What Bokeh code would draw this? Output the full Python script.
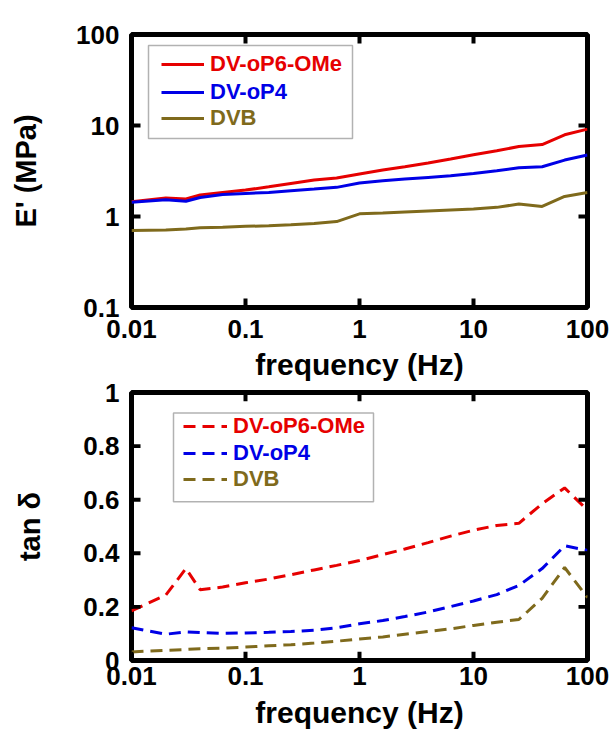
import math
from bokeh.plotting import figure
from bokeh.models import (FixedTicker, CustomJSTickFormatter, Legend, LegendItem,
                          Label, BoxAnnotation, Range1d)
from bokeh.layouts import column
from bokeh.embed import file_html
from bokeh.resources import INLINE

FONT = "Liberation Sans"
RED = "#e60000"
BLUE = "#0000e6"
OLIVE = "#7f6a1c"

# ---------------- data ----------------
freq = [0.01, 0.02, 0.03, 0.04, 0.063, 0.1, 0.16, 0.25, 0.4, 0.63, 1,
        1.6, 2.5, 4, 6.3, 10, 16, 25, 40, 63, 100]

E_dv_op6_ome = [1.45, 1.60, 1.56, 1.72, 1.84, 1.95, 2.12, 2.31, 2.52, 2.65, 2.93,
                3.24, 3.52, 3.87, 4.28, 4.76, 5.27, 5.88, 6.18, 7.90, 9.12]
E_dv_op4 = [1.43, 1.53, 1.47, 1.62, 1.74, 1.79, 1.84, 1.92, 2.00, 2.09, 2.33,
            2.47, 2.58, 2.69, 2.80, 2.97, 3.18, 3.43, 3.52, 4.17, 4.73]
E_dvb = [0.70, 0.71, 0.73, 0.75, 0.76, 0.78, 0.79, 0.81, 0.84, 0.88, 1.07,
         1.09, 1.12, 1.15, 1.18, 1.21, 1.26, 1.37, 1.29, 1.66, 1.84]

tan_dv_op6_ome = [0.185, 0.244, 0.343, 0.264, 0.274, 0.290, 0.304, 0.320, 0.338, 0.355, 0.373,
                  0.395, 0.416, 0.440, 0.464, 0.486, 0.504, 0.512, 0.585, 0.644, 0.561]
tan_dv_op4 = [0.122, 0.098, 0.107, 0.104, 0.101, 0.103, 0.105, 0.108, 0.113, 0.122, 0.137,
              0.149, 0.164, 0.181, 0.201, 0.222, 0.246, 0.280, 0.343, 0.428, 0.411]
tan_dvb = [0.032, 0.038, 0.041, 0.044, 0.046, 0.050, 0.055, 0.059, 0.065, 0.072, 0.080,
           0.088, 0.098, 0.108, 0.118, 0.131, 0.143, 0.153, 0.232, 0.347, 0.235]

series_names = ["DV-oP6-OMe", "DV-oP4", "DVB"]
series_colors = [RED, BLUE, OLIVE]

x_ticks = [0.01, 0.1, 1, 10, 100]
x_tick_labels = ["0.01", "0.1", "1", "10", "100"]
e_ticks = [0.1, 1, 10, 100]
e_tick_labels = ["0.1", "1", "10", "100"]
tan_ticks = [0, 0.2, 0.4, 0.6, 0.8, 1]
tan_tick_labels = ["0", "0.2", "0.4", "0.6", "0.8", "1"]

# ---------------- layout geometry (pixels) ----------------
FRAME_L, FRAME_W = 131, 456
A_TOP, A_H = 34, 273
P1_H = 383
B_TOP, B_H = 9, 275
P2_H = 731 - P1_H
TICK_L, TICK_W = 9, 4


class Geo:
    """page-pixel <-> data helpers for one panel (annotation placement only)"""
    def __init__(self, ylog, ylo, yhi, top, h, canvas_top):
        self.ylog, self.ylo, self.yhi = ylog, ylo, yhi
        self.top, self.h, self.ct = top, h, canvas_top
        self.xlo, self.xhi = math.log10(x_ticks[0]), math.log10(x_ticks[-1])

    def _yt(self, v):
        return math.log10(v) if self.ylog else v

    def x(self, px):
        return 10 ** (self.xlo + (self.xhi - self.xlo) * (px - FRAME_L) / FRAME_W)

    def px(self, xv):
        return FRAME_L + FRAME_W * (math.log10(xv) - self.xlo) / (self.xhi - self.xlo)

    def y(self, page_py):
        f = (self.top + self.h - (page_py - self.ct)) / self.h
        lo, hi = self._yt(self.ylo), self._yt(self.yhi)
        v = lo + (hi - lo) * f
        return 10 ** v if self.ylog else v

    def py(self, yv):
        lo, hi = self._yt(self.ylo), self._yt(self.yhi)
        return self.ct + self.top + self.h - self.h * (self._yt(yv) - lo) / (hi - lo)


def fmt(tv, tl):
    return CustomJSTickFormatter(
        args=dict(tvals=tv, tlabs=tl),
        code="const i = tvals.indexOf(tick); return i >= 0 ? tlabs[i] : String(tick);")


def style_axis(ax, tv, tl, standoff):
    ax.ticker = FixedTicker(ticks=tv)
    ax.formatter = fmt(tv, tl)
    ax.axis_line_color = None
    ax.major_tick_line_color = None
    ax.major_tick_in = 0
    ax.major_tick_out = 0
    ax.minor_tick_line_color = None
    ax.major_label_standoff = standoff
    ax.major_label_text_font = FONT
    ax.major_label_text_font_style = "bold"
    ax.major_label_text_color = "black"
    ax.major_label_text_font_size = "26px"


def axis_title(ax, text, standoff, size):
    ax.axis_label = text
    ax.axis_label_standoff = standoff
    ax.axis_label_text_font = FONT
    ax.axis_label_text_font_style = "bold"
    ax.axis_label_text_font_size = size
    ax.axis_label_text_color = "black"


def make_fig(h, top, bottom, ylog, ylo, yhi):
    p = figure(width=613, height=h, x_axis_type="log",
               y_axis_type="log" if ylog else "linear",
               x_range=Range1d(x_ticks[0], x_ticks[-1]), y_range=Range1d(ylo, yhi),
               output_backend="svg", toolbar_location=None,
               min_border_left=FRAME_L, min_border_right=613 - FRAME_L - FRAME_W,
               min_border_top=top, min_border_bottom=bottom)
    p.grid.visible = False
    p.outline_line_color = "black"
    p.outline_line_width = 5
    p.background_fill_color = None
    p.border_fill_color = None
    return p


def tick_box(p, l, r, b, t):
    p.add_layout(BoxAnnotation(left=l, right=r, bottom=b, top=t, fill_color="black",
                               fill_alpha=1, line_alpha=0))


def add_ticks(p, g, yticks):
    f_top = g.ct + g.top
    f_bot = f_top + g.h
    for t in x_ticks:
        c = g.px(t)
        l, r = g.x(c - TICK_W / 2), g.x(c + TICK_W / 2)
        tick_box(p, l, r, g.ylo, g.y(f_bot - TICK_L))
        tick_box(p, l, r, g.y(f_top + TICK_L), g.yhi)
    for t in yticks:
        c = g.py(t)
        b, tp = g.y(c + TICK_W / 2), g.y(c - TICK_W / 2)
        tick_box(p, x_ticks[0], g.x(FRAME_L + TICK_L), b, tp)
        tick_box(p, g.x(FRAME_L + FRAME_W - TICK_L), x_ticks[-1], b, tp)


def add_legend(p, renderers, glyph_w, x0, rows_y):
    for r, name, col, vy in zip(renderers, series_names, series_colors, rows_y):
        leg = Legend(items=[LegendItem(label=name, renderers=[r])],
                     location=(x0, vy), padding=0, margin=0, spacing=0,
                     border_line_alpha=0, background_fill_alpha=0,
                     glyph_width=glyph_w, glyph_height=26, label_height=26,
                     label_standoff=6, label_text_font=FONT,
                     label_text_font_style="bold", label_text_font_size="22px",
                     label_text_color=col)
        p.add_layout(leg)


def text_label(p, g, px, py, text, size):
    p.add_layout(Label(x=g.x(px), y=g.y(py), text=text, text_font=FONT,
                       text_font_style="bold", text_font_size=size,
                       text_color="black", text_align="left",
                       text_baseline="alphabetic"))


# ---------------- panel a ----------------
ga = Geo(True, e_ticks[0], e_ticks[-1], A_TOP, A_H, 0)
p1 = make_fig(P1_H, A_TOP, P1_H - A_TOP - A_H, True, e_ticks[0], e_ticks[-1])
style_axis(p1.xaxis[0], x_ticks, x_tick_labels, 12)
style_axis(p1.yaxis[0], e_ticks, e_tick_labels, 12)
axis_title(p1.yaxis[0], "E' (MPa)", 31, "29px")
axis_title(p1.xaxis[0], "frequency (Hz)", 7, "30px")

r1 = []
for ys, col in zip([E_dv_op6_ome, E_dv_op4, E_dvb], series_colors):
    r1.append(p1.line(freq, ys, line_color=col, line_width=3))
add_ticks(p1, ga, e_ticks)

p1.add_layout(BoxAnnotation(left=ga.x(148), right=ga.x(352), top=ga.y(45), bottom=ga.y(138),
                            fill_alpha=0, line_color="black", line_width=1.5))
add_legend(p1, r1, 43, 30, [230, 202, 176])
text_label(p1, ga, 13, 58, "a", "40px")

# ---------------- panel b ----------------
gb = Geo(False, tan_ticks[0], tan_ticks[-1], B_TOP, B_H, P1_H)
p2 = make_fig(P2_H, B_TOP, P2_H - B_TOP - B_H, False, tan_ticks[0], tan_ticks[-1])
style_axis(p2.xaxis[0], x_ticks, x_tick_labels, 6)
style_axis(p2.yaxis[0], tan_ticks, tan_tick_labels, 12)
axis_title(p2.yaxis[0], "tan δ", 34, "29px")
axis_title(p2.xaxis[0], "frequency (Hz)", 8, "30px")

r2 = []
for ys, col in zip([tan_dv_op6_ome, tan_dv_op4, tan_dvb], series_colors):
    r2.append(p2.line(freq, ys, line_color=col, line_width=3, line_dash="12 7"))
add_ticks(p2, gb, tan_ticks)

p2.add_layout(BoxAnnotation(left=gb.x(173), right=gb.x(373), top=gb.y(413), bottom=gb.y(504),
                            fill_alpha=0, line_color="black", line_width=1.5))
add_legend(p2, r2, 44, 52, [221, 194, 168])
text_label(p2, gb, 13, 408, "b", "40px")

layout = column(p1, p2, spacing=0)
open("out.html", "w").write(file_html(layout, INLINE))
